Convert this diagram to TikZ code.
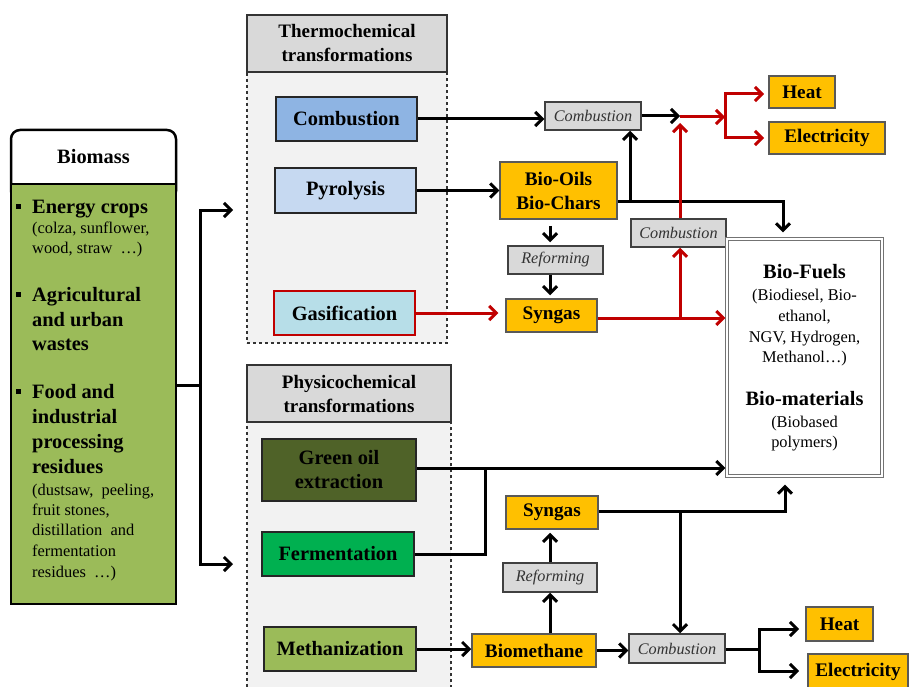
\documentclass[tikz,border=0pt]{standalone}
\usepackage{fontspec}
\setmainfont{Liberation Serif}
\usetikzlibrary{arrows.meta}
\definecolor{myred}{HTML}{C00000}
\definecolor{myorange}{HTML}{FFC000}
\definecolor{boxgray}{HTML}{D9D9D9}
\definecolor{panelgray}{HTML}{F2F2F2}
\definecolor{combblue}{HTML}{8EB4E3}
\definecolor{pyroblue}{HTML}{C6D9F1}
\definecolor{gasblue}{HTML}{B7DEE8}
\definecolor{oilgreen}{HTML}{4F6228}
\definecolor{fermgreen}{HTML}{00B050}
\definecolor{biogreen}{HTML}{9BBB59}
\newcommand\fsmain{\fontsize{20.4}{24}\selectfont\bfseries}
\newcommand\fsor{\fontsize{19.2}{24}\selectfont\bfseries}
\newcommand\fshead{\fontsize{19}{24}\selectfont\bfseries}
\newcommand\fsit{\fontsize{16.2}{20}\selectfont\itshape}
\newcommand\fssmall{\fontsize{16.4}{20.5}\selectfont}
\begin{document}
\begin{tikzpicture}[x=1pt,y=-1pt,
  mainbox/.style={draw=black!85, line width=2.5pt, inner sep=0pt, font=\fsmain, align=center},
  orbox/.style={draw=black!65, line width=1.5pt, fill=myorange, inner sep=0pt, font=\fsor, align=center},
  graybox/.style={draw=black!75, line width=1.5pt, fill=boxgray, inner sep=0pt, font=\fsit, text=black!80},
  headbox/.style={draw=black!80, line width=1.5pt, fill=boxgray, inner sep=0pt, font=\fshead, align=center},
  panel/.style={draw=black!80, dashed, line width=1.1pt, fill=panelgray, inner sep=0pt},
  ln/.style={line width=3pt, line join=miter},
  arr/.style={ln, -{Straight Barb[length=7pt,width=14pt]}},
  rarr/.style={arr, draw=myred},
  rln/.style={ln, draw=myred},
  bl/.style={font=\fsmain, anchor=base west, inner sep=0pt},
  sl/.style={font=\fssmall, anchor=base west, inner sep=0pt},
  fl/.style={anchor=base, inner sep=0pt}
]
\useasboundingbox (0,0) rectangle (909,687);

% ---------- Biomass ----------
\draw[fill=white, line width=2.5pt, rounded corners=9pt] (11,130) rectangle (176,200);
\node[draw=black, line width=2.5pt, fill=biogreen, minimum width=165pt, minimum height=420pt, inner sep=0pt] (bio) at (93.5,394) {};
\node[font=\fsmain, inner sep=0pt] (biot) at (93.5,157) {Biomass};
\fill (16,203.5) rectangle (21,208.5);
\fill (16,291.5) rectangle (21,296.5);
\fill (16,388.5) rectangle (21,393.5);
\node[bl] (it1) at (32,213) {Energy crops};
\node[sl] (it2) at (32,233) {(colza, sunflower,};
\node[sl] (it3) at (32,253) {wood, straw \ …)};
\node[bl] (it4) at (32,301) {Agricultural};
\node[bl] (it5) at (32,326) {and urban};
\node[bl] (it6) at (32,350) {wastes};
\node[bl] (it7) at (32,398) {Food and};
\node[bl] (it8) at (32,423) {industrial};
\node[bl] (it9) at (32,448) {processing};
\node[bl] (it10) at (32,473) {residues};
\node[sl] (it11) at (32,495) {(dustsaw, \ peeling,};
\node[sl] (it12) at (32,515) {fruit stones,};
\node[sl] (it13) at (32,535) {distillation \ and};
\node[sl] (it14) at (32,556) {fermentation};
\node[sl] (it15) at (32,577) {residues \ …)};

\coordinate (bj) at (200,385);
\coordinate (bt) at (233,210);
\coordinate (bb) at (233,564);
\draw[ln] (bio.east |- bj) -- (bj);
\draw[arr] (bj) |- (bt);
\draw[arr] (bj) |- (bb);

% ---------- Thermochemical ----------
\node[panel, minimum width=200pt, minimum height=271pt] (tpanel) at (347,207.5) {};
\node[headbox, minimum width=200pt, minimum height=57pt] (thead) at (347,43.5) {Thermochemical\\transformations};
\node[mainbox, fill=combblue, minimum width=141pt, minimum height=44pt] (comb) at (346.5,119) {Combustion};
\node[mainbox, fill=pyroblue, minimum width=141pt, minimum height=45pt] (pyro) at (345.5,190.5) {Pyrolysis};
\node[mainbox, draw=myred, fill=gasblue, minimum width=141pt, minimum height=44pt] (gasif) at (344.5,313) {Gasification};

% ---------- Physicochemical ----------
\node[panel, minimum width=204pt, minimum height=278pt] (ppanel) at (349,561) {};
\node[headbox, minimum width=204pt, minimum height=57pt] (phead) at (349,393.5) {Physicochemical\\transformations};
\node[mainbox, fill=oilgreen, minimum width=154pt, minimum height=62pt] (greenoil) at (339,470) {Green oil\\extraction};
\node[mainbox, fill=fermgreen, minimum width=152pt, minimum height=44pt] (ferm) at (338,554) {Fermentation};
\node[mainbox, fill=biogreen, minimum width=152pt, minimum height=44pt] (meth) at (340,649) {Methanization};

% ---------- intermediate boxes ----------
\node[graybox, minimum width=96pt, minimum height=28pt] (combsm1) at (593,116) {Combustion};
\node[orbox, minimum width=117pt, minimum height=57pt] (biooils) at (558.5,190.5) {Bio-Oils\\Bio-Chars};
\node[graybox, minimum width=95pt, minimum height=28pt] (ref1) at (555.5,260) {Reforming};
\node[orbox, minimum width=91pt, minimum height=33pt] (syn1) at (551.5,315.5) {Syngas};
\node[graybox, minimum width=95pt, minimum height=28pt] (combsm2) at (678.5,233) {Combustion};
\node[orbox, minimum width=66pt, minimum height=32pt] (heat1) at (802,92) {Heat};
\node[orbox, minimum width=116pt, minimum height=32pt] (elec1) at (827,138) {Electricity};

\node[orbox, minimum width=92pt, minimum height=33pt] (syn2) at (552,512.5) {Syngas};
\node[graybox, minimum width=94pt, minimum height=29pt] (ref2) at (550,577.5) {Reforming};
\node[orbox, minimum width=124pt, minimum height=33pt] (biometh) at (534,650.5) {Biomethane};
\node[graybox, minimum width=96pt, minimum height=29pt] (combsm3) at (677,648.5) {Combustion};
\node[orbox, minimum width=67pt, minimum height=34pt] (heat2) at (839.5,624) {Heat};
\node[orbox, minimum width=100pt, minimum height=36pt] (elec2) at (858,672) {Electricity};

% ---------- Bio-Fuels ----------
\node[draw=black!55, double=white, double distance=1.3pt, line width=1.1pt, fill=white, minimum width=155pt, minimum height=237pt, inner sep=0pt] (fuels) at (804.5,357.5) {};
\node[fl, font=\fsmain] (f1) at (804.5,278) {Bio-Fuels};
\node[fl, font=\fssmall] (f2) at (804.5,300) {(Biodiesel, Bio-};
\node[fl, font=\fssmall] (f3) at (804.5,321) {ethanol,};
\node[fl, font=\fssmall] (f4) at (804.5,342) {NGV, Hydrogen,};
\node[fl, font=\fssmall] (f5) at (804.5,362) {Methanol…)};
\node[fl, font=\fsmain] (f6) at (804.5,405) {Bio-materials};
\node[fl, font=\fssmall] (f7) at (804.5,427) {(Biobased};
\node[fl, font=\fssmall] (f8) at (804.5,447) {polymers)};

% ---------- connectors (top) ----------
\coordinate (rx) at (550,0);
\coordinate (j1) at (680,117);
\coordinate (fk1) at (725,117);
\coordinate (h1) at (764,94);
\coordinate (e1) at (764,138);
\coordinate (j2) at (630,201);
\coordinate (j3) at (783,201);
\coordinate (j4) at (680,318);

\draw[arr] (comb.east) -- (comb.east -| combsm1.west);
\draw[arr] (combsm1.east) -- (combsm1.east -| j1);
\draw[rarr] (j1) -- (fk1);
\draw[rarr] (fk1) |- (h1);
\draw[rarr] (fk1) |- (e1);
\draw[arr] (pyro.east) -- (biooils.west);
\draw[arr, shorten >=6pt] (biooils.east |- j2) -- (j3) -- (j3 |- fuels.north);
\draw[arr] (j2) -- (j2 |- combsm1.south);
\draw[arr, shorten <=6pt, shorten >=3pt] (biooils.south -| rx) -- (ref1.north -| rx);
\draw[arr, shorten >=3pt] (ref1.south -| rx) -- (syn1.north -| rx);
\draw[rarr, shorten >=7pt] (gasif.east) -- (gasif.east -| syn1.west);
\draw[rarr, shorten >=1pt] (syn1.east |- j4) -- (j4 -| fuels.west);
\draw[rarr] (j4) -- (j4 |- combsm2.south);
\draw[rarr, shorten >=6pt] (combsm2.north -| j4) -- (j1);

% ---------- connectors (bottom) ----------
\coordinate (j5) at (485,468);
\coordinate (j6) at (680,511);
\coordinate (j7) at (785,511);
\coordinate (fk2) at (759,649);
\coordinate (h2) at (799,629);
\coordinate (e2) at (799,671);

\draw[arr, shorten >=1pt] (greenoil.east |- j5) -- (j5 -| fuels.west);
\draw[ln] (ferm.east) -| (j5);
\draw[arr] (meth.east) -- (meth.east -| biometh.west);
\draw[arr] (biometh.north -| ref2) -- (ref2.south);
\draw[arr, shorten >=3pt] (ref2.north) -- (syn2.south -| ref2);
\draw[arr, shorten >=8pt] (syn2.east |- j6) -- (j7) -- (j7 |- fuels.south);
\draw[arr] (j6) -- (j6 |- combsm3.north);
\draw[arr] (biometh.east) -- (biometh.east -| combsm3.west);
\draw[ln] (combsm3.east |- fk2) -- (fk2);
\draw[arr] (fk2) |- (h2);
\draw[arr] (fk2) |- (e2);
\end{tikzpicture}
\end{document}
